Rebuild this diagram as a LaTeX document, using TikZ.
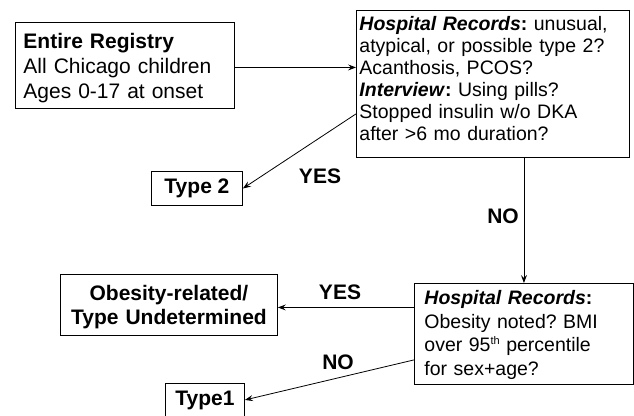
\documentclass[tikz,border=0pt]{standalone}
\usepackage{fontspec}
\setmainfont{Liberation Sans}
\usetikzlibrary{arrows.meta,positioning,calc}
\frenchspacing

\begin{document}
\begin{tikzpicture}[x=1pt,y=-1pt,
  box/.style={rectangle,draw=black,line width=0.9pt,inner xsep=3pt,
              inner ysep=3pt,anchor=north west},
  big/.style={font=\fontsize{21}{25}\selectfont},
  bigbf/.style={font=\fontsize{21}{24}\selectfont\bfseries},
  small/.style={font=\fontsize{19.5}{21.9}\selectfont},
  arr/.style={-{Stealth[length=8pt,width=6pt,inset=3pt]},line width=0.8pt},
  lbl/.style={bigbf,inner sep=0pt}]
\useasboundingbox (0,0) rectangle (634,415);
\node[box,big,inner xsep=8pt,text width=203pt,align=left,
      text height=23.3pt,text depth=56.7pt] (reg) at (15,22)
  {\textbf{Entire Registry}\\All Chicago children\\Ages 0-17 at onset};
\node[box,small,text width=267pt,align=left,
      text height=17.5pt,text depth=123.5pt] (hosp) at (356,10)
  {\textbf{\textit{Hospital Records}:} unusual,\\atypical, or possible type 2?\\
   Acanthosis, PCOS?\\\textbf{\textit{Interview}:} Using pills?\\
   Stopped insulin w/o DKA\\after >6 mo duration?};
\node[box,bigbf,minimum width=91pt,minimum height=34pt,
      inner sep=0pt] (t2) at (151,171) {Type 2};
\node[box,font=\fontsize{19.5}{23.7}\selectfont,inner xsep=10pt,text width=199pt,
      align=left,text height=18pt,text depth=77pt] (bmi) at (414,283)
  {\textbf{\textit{Hospital Records}:}\\Obesity noted? BMI\\
   over 95\raisebox{7pt}{\fontsize{11}{11}\selectfont th} percentile\\for sex+age?};
\node[box,bigbf,text width=211pt,align=center,
      text height=23pt,text depth=32pt] (obese) at (60,274)
  {Obesity-related/\\Type Undetermined};
\node[box,bigbf,minimum width=79pt,minimum height=33pt,
      inner sep=0pt] (t1) at (165,383) {Type1};
\node[lbl] (yes1) at (320,176) {YES};
\node[lbl] (no1) at (503,216) {NO};
\node[lbl] (yes2) at (340,292) {YES};
\node[lbl] (no2) at (338,362) {NO};
\draw[arr] ([yshift=-2pt]reg.east) -- ([yshift=-2pt]reg.east -| hosp.west);
\draw[arr] ([yshift=44pt]hosp.south west) -- (t2.east);
\draw[arr] (bmi.north |- hosp.south) -- (bmi.north);
\draw[arr] ([yshift=-2.5pt]obese.east -| bmi.west) -- ([yshift=-2.5pt]obese.east);
\draw[arr] ([yshift=25pt]bmi.south west) -- (t1.east);
\end{tikzpicture}
\end{document}
